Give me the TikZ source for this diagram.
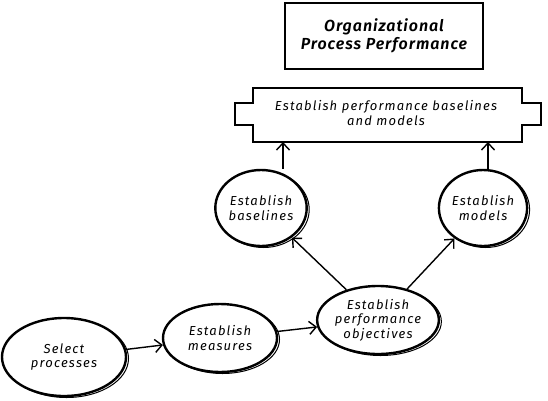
\documentclass[tikz,border=0pt]{standalone}
\usepackage{fontspec}
\setmainfont{Fira Sans}
\newfontfamily\handfont[LetterSpace=9]{Fira Sans}
\newfontfamily\handbold[LetterSpace=6]{Fira Sans SemiBold}
\usetikzlibrary{shapes.geometric,arrows.meta,shadows}
\tikzset{
  proc/.style={ellipse, draw, line width=2.4pt, fill=white, align=center,
    font=\handfont\itshape\fontsize{13}{14.5}\selectfont, inner sep=0pt,
    copy shadow={shadow xshift=2.5pt, shadow yshift=-1.5pt, draw=black, line width=1pt, fill=white}},
  conn/.style={line width=1.4pt, -{Straight Barb[length=7pt,width=13pt,line width=1.4pt]}},
  lbl/.style={align=center, font=\handfont\itshape\fontsize{13}{14.5}\selectfont},
}
\begin{document}
\begin{tikzpicture}[x=1pt,y=-1pt]
\useasboundingbox (0,0) rectangle (548,400);
% top box
\node[draw, line width=2.6pt, minimum width=198pt, minimum height=66pt, align=center,
  font=\handbold\itshape\fontsize{16}{18}\selectfont] (opp) at (384,36)
  {Organizational\\Process Performance};
% notched box
\draw[line width=2.4pt] (253,88) -- (522,88) -- (522,103) -- (541,103) -- (541,125) -- (522,125)
  -- (522,142) -- (253,142) -- (253,125) -- (235,125) -- (235,103) -- (253,103) -- cycle;
\coordinate (boxL) at (283,142);
\coordinate (boxR) at (488,142);
\node[lbl] (epb) at (386,113) {Establish performance baselines\\and models};
% ellipses
\node[proc, minimum width=76pt, minimum height=76pt] (base) at (261,208) {Establish\\baselines};
\node[proc, minimum width=74pt, minimum height=76pt] (mod) at (483,208) {Establish\\models};
\node[proc, minimum width=124pt, minimum height=78pt] (sel) at (64,357) {Select\\processes};
\node[proc, minimum width=114pt, minimum height=68pt] (meas) at (220,338) {Establish\\measures};
\node[proc, minimum width=112pt, minimum height=68pt] (obj) at (378,320) {Establish\\performance\\objectives};
% connectors
\draw[conn] (sel) -- (meas);
\draw[conn] (meas) -- (obj);
\draw[conn] (obj) -- (base);
\draw[conn] (obj) -- (mod);
\draw[conn] (base.north -| boxL) -- (boxL);
\draw[conn] (mod.north -| boxR) -- (boxR);
\end{tikzpicture}
\end{document}
